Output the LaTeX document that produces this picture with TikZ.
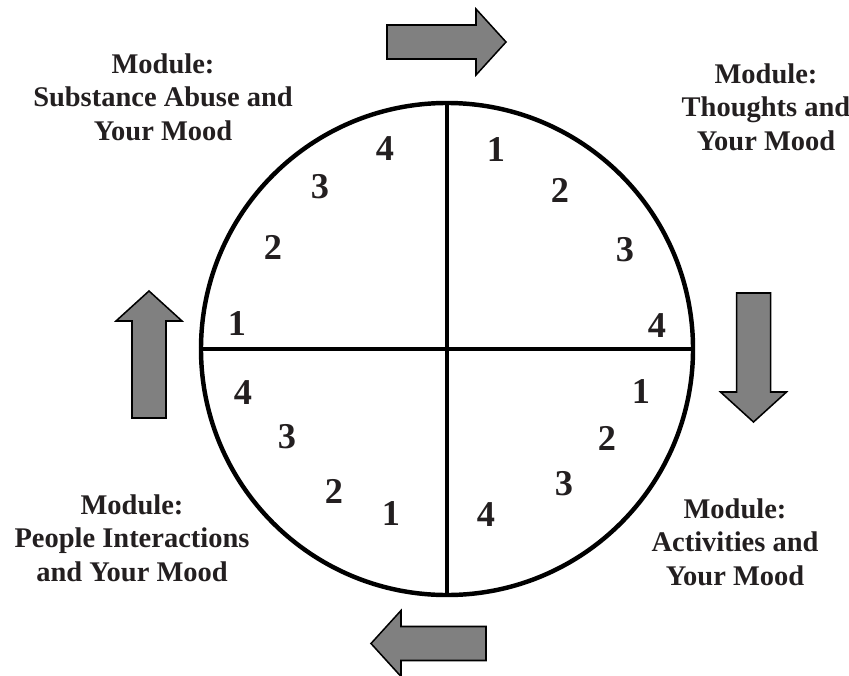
\documentclass[tikz,border=0pt]{standalone}
\usepackage{fontspec}
\setmainfont{Liberation Serif}
\usepackage{tikz}
\usepackage{xcolor}
\usetikzlibrary{positioning}
\definecolor{cink}{HTML}{231F20}
\definecolor{carrow}{HTML}{808080}
\tikzset{
  wheel/.style={
    circle, draw=black, line width=3.8pt,
    minimum size=14.76cm, inner sep=0pt,
  },
  divider/.style={line width=3.6pt, draw=black},
  modlbl/.style={
    font=\fontsize{24.3}{28.6}\selectfont\bfseries,
    text=cink, align=center, inner sep=0pt,
  },
  num/.style={font=\fontsize{31}{31}\selectfont\bfseries, text=cink, inner sep=0pt},
  turn/.style={draw=black, fill=carrow, line width=1.3pt, line join=miter},
  pics/turnarrow/.style={code={
    \draw[turn] (0,-17) -- ({#1-30},-17) -- ({#1-30},-33) -- (#1,0)
      -- ({#1-30},33) -- ({#1-30},17) -- (0,17) -- cycle;
  }},
}

\begin{document}
\begin{tikzpicture}[x=0.03cm, y=-0.03cm]
\useasboundingbox (0,0) rectangle (849,675);

%% ── Wheel ─────────────────────────────────────────────────
\node[wheel] (wheel) at (447,349) {};
\draw[divider] (wheel.north) -- (wheel.south);
\draw[divider] (wheel.west)  -- (wheel.east);

%% ── Session numbers ───────────────────────────────────────
\foreach \n/\x/\y [count=\i] in {1/237/324, 2/273/247, 3/320/187, 4/385/149,
                                  1/496/150, 2/560/190, 3/625/250, 4/657/326,
                                  1/641/392, 2/607/438, 3/564/484, 4/486/515,
                                  1/391/514, 2/334/491, 3/287/437, 4/243/393}
  \node[num] (s\i) at (\x,\y) {\n};

%% ── Module labels ─────────────────────────────────────────
\node[modlbl] (substance) at (163,97) {Module:\\Substance Abuse and\\Your Mood};
\node[modlbl] (thoughts) at (766,107) {Module:\\Thoughts and\\Your Mood};
\node[modlbl] (activities) at (735,542) {Module:\\Activities and\\Your Mood};
\node[modlbl] (people) at (132,538) {Module:\\People Interactions\\and Your Mood};

%% ── Turn arrows ───────────────────────────────────────────
\pic at (387,42) {turnarrow=119};
\pic[rotate=-90] at (753.5,293) {turnarrow=129};
\pic[rotate=180] at (486,643.5) {turnarrow=115};
\pic[rotate=90] at (149,418) {turnarrow=127};

\end{tikzpicture}
\end{document}
